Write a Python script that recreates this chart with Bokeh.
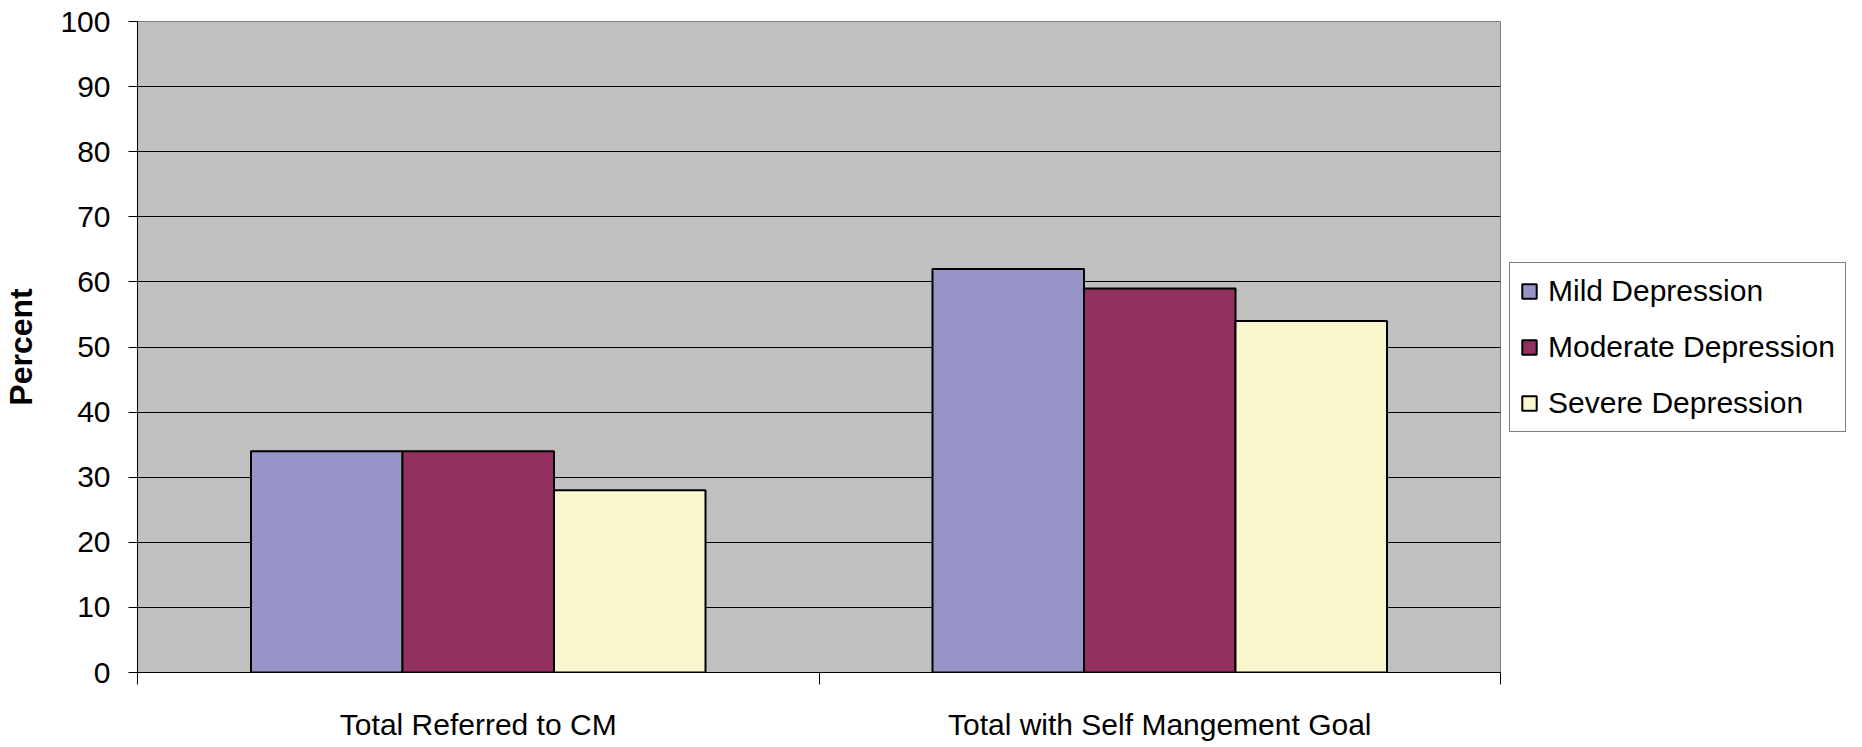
from bokeh.plotting import figure
from bokeh.models import Range1d, FixedTicker, Legend, LegendItem
from bokeh.embed import file_html
from bokeh.resources import INLINE

categories = ["Total Referred to CM", "Total with Self Mangement Goal"]
series_names = ["Mild Depression", "Moderate Depression", "Severe Depression"]
mild = [34, 62]
moderate = [34, 59]
severe = [28, 54]
y_ticks = [0, 10, 20, 30, 40, 50, 60, 70, 80, 90, 100]

colors = ["#9794C8", "#92305F", "#FAF7CF"]
series = [mild, moderate, severe]

FONT = "Liberation Sans"

p = figure(frame_width=1363, frame_height=651, output_backend="svg", toolbar_location=None,
           x_range=Range1d(0, len(categories)), y_range=Range1d(0, 100))
p.min_border_left = 129
p.min_border_top = 21
p.min_border_right = 354
p.min_border_bottom = 71

p.border_fill_color = "white"
p.background_fill_color = "#C0C0C0"
p.outline_line_color = "#808080"
p.outline_line_width = 1

bar_w = 0.2223
offsets = [-bar_w, 0.0, bar_w]
renderers = []
for vals, col, off in zip(series, colors, offsets):
    xs = [i + 0.5 + off for i in range(len(categories))]
    r = p.vbar(x=xs, top=vals, bottom=0, width=bar_w, fill_color=col,
               line_color="black", line_width=2)
    renderers.append(r)

# y axis
p.yaxis.ticker = FixedTicker(ticks=y_ticks)
p.yaxis.major_tick_out = 9
p.yaxis.major_tick_in = 0
p.yaxis.minor_tick_out = 0
p.yaxis.minor_tick_in = 0
p.yaxis.major_tick_line_color = "black"
p.yaxis.axis_line_color = "black"
p.yaxis.major_label_text_font = FONT
p.yaxis.major_label_text_font_size = "30px"
p.yaxis.major_label_text_color = "black"
p.yaxis.major_label_standoff = 18
p.yaxis.axis_label = "Percent"
p.yaxis.axis_label_text_font = FONT
p.yaxis.axis_label_text_font_style = "bold"
p.yaxis.axis_label_text_font_size = "32px"
p.yaxis.axis_label_text_color = "black"
p.yaxis.axis_label_standoff = 18

# x axis
centers = [i + 0.5 for i in range(len(categories))]
bounds = [float(i) for i in range(len(categories) + 1)]
p.xaxis.ticker = FixedTicker(ticks=centers, minor_ticks=bounds)
p.xaxis.major_label_overrides = {c: lab for c, lab in zip(centers, categories)}
p.xaxis.major_tick_out = 0
p.xaxis.major_tick_in = 0
p.xaxis.minor_tick_out = 12
p.xaxis.minor_tick_in = 0
p.xaxis.minor_tick_line_color = "black"
p.xaxis.axis_line_color = "black"
p.xaxis.major_label_text_font = FONT
p.xaxis.major_label_text_font_size = "30px"
p.xaxis.major_label_text_color = "black"
p.xaxis.major_label_standoff = 23

p.xgrid.visible = False
p.ygrid.ticker = FixedTicker(ticks=y_ticks)
p.ygrid.grid_line_color = "black"
p.ygrid.grid_line_width = 1

legend = Legend(items=[LegendItem(label=n, renderers=[r]) for n, r in zip(series_names, renderers)],
                location="center_left")
legend.label_text_font = FONT
legend.label_text_font_size = "30px"
legend.label_text_color = "black"
legend.glyph_width = 18
legend.glyph_height = 18
legend.label_standoff = 10
legend.label_height = 36
legend.spacing = 20
legend.padding = 10
legend.margin = 9
legend.border_line_color = "black"
legend.border_line_width = 1
legend.background_fill_color = "white"
legend.background_fill_alpha = 1
p.add_layout(legend, "right")

open("out.html", "w").write(file_html(p, INLINE))
